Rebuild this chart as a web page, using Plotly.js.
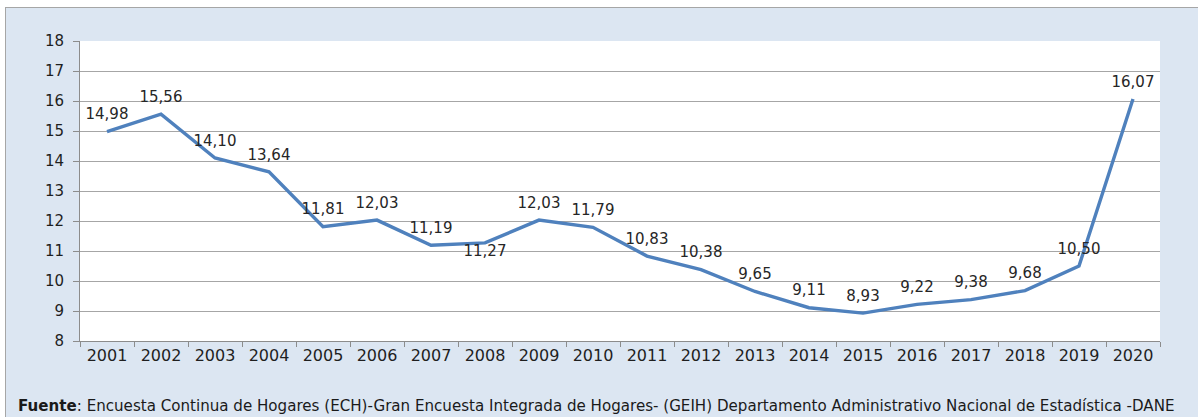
<!DOCTYPE html>
<html>
<head>
<meta charset="utf-8">
<script src="https://cdn.plot.ly/plotly-3.0.1.min.js"></script>
<style>
html,body{margin:0;padding:0;background:#ffffff;width:1198px;height:417px;overflow:hidden;}
#wrap{position:absolute;left:5px;top:7px;width:1193px;height:410px;border-left:1px solid #a6a6a6;border-top:1px solid #a6a6a6;background:#dce6f2;}
#chart{width:1192px;height:409px;}
</style>
</head>
<body>
<div id="wrap"><div id="chart"></div></div>
<script>
const years = ['2001','2002','2003','2004','2005','2006','2007','2008','2009','2010','2011','2012','2013','2014','2015','2016','2017','2018','2019','2020'];
const values = [14.98,15.56,14.10,13.64,11.81,12.03,11.19,11.27,12.03,11.79,10.83,10.38,9.65,9.11,8.93,9.22,9.38,9.68,10.50,16.07];
const belowYears = ['2008'];
const sourceBold = 'Fuente';
const sourceText = ': Encuesta Continua de Hogares (ECH)-Gran Encuesta Integrada de Hogares- (GEIH) Departamento Administrativo Nacional de Estadística -DANE';

const fmt = v => v.toFixed(2).replace('.', ',');
const FONT = "'DejaVu Sans', Arial, sans-serif";
const labelFont = {family: FONT, size: 15, color: '#262626'};

const aboveIdx = years.map((y, i) => i).filter(i => !belowYears.includes(years[i]));
const belowIdx = years.map((y, i) => i).filter(i => belowYears.includes(years[i]));

const lineTrace = {
  type: 'scatter', mode: 'lines',
  x: years, y: values,
  line: {color: '#4f81bd', width: 3.4},
  hoverinfo: 'skip'
};
const aboveTrace = {
  type: 'scatter', mode: 'markers+text',
  x: aboveIdx.map(i => years[i]), y: aboveIdx.map(i => values[i]),
  text: aboveIdx.map(i => fmt(values[i])),
  textposition: 'top center', textfont: labelFont,
  marker: {size: 12, color: 'rgba(0,0,0,0)', line: {width: 0}},
  cliponaxis: false, hoverinfo: 'skip'
};
const belowTrace = {
  type: 'scatter', mode: 'markers+text',
  x: belowIdx.map(i => years[i]), y: belowIdx.map(i => values[i]),
  text: belowIdx.map(i => fmt(values[i])),
  textposition: 'bottom center', textfont: labelFont,
  marker: {size: 1, color: 'rgba(0,0,0,0)', line: {width: 0}},
  cliponaxis: false, hoverinfo: 'skip'
};

const layout = {
  width: 1192,
  height: 409,
  margin: {l: 74, r: 38, t: 33, b: 76},
  paper_bgcolor: '#dce6f2',
  plot_bgcolor: '#ffffff',
  showlegend: false,
  font: {family: FONT, color: '#262626'},
  xaxis: {
    type: 'category',
    categoryorder: 'array', categoryarray: years,
    range: [-0.5, 19.5],
    showgrid: false,
    showline: true,
    linecolor: '#8c8c8c',
    linewidth: 1,
    ticks: 'outside',
    ticklen: 5,
    tickcolor: '#8c8c8c',
    tickson: 'boundaries',
    tickfont: {family: FONT, size: 16, color: '#1f1f1f'},
    zeroline: false,
    fixedrange: true
  },
  yaxis: {
    range: [8, 18],
    dtick: 1,
    showgrid: true,
    gridcolor: '#a6a6a6',
    gridwidth: 1,
    showline: true,
    linecolor: '#8c8c8c',
    linewidth: 1,
    ticks: 'outside',
    ticklen: 6,
    tickcolor: '#8c8c8c',
    ticklabelstandoff: 6,
    tickfont: {family: FONT, size: 15, color: '#1f1f1f'},
    zeroline: false,
    fixedrange: true
  },
  annotations: [{
    xref: 'paper', yref: 'paper',
    x: -0.059, y: -0.215,
    xanchor: 'left', yanchor: 'middle',
    showarrow: false,
    text: '<b>' + sourceBold + '</b>' + sourceText,
    font: {family: FONT, size: 15.1, color: '#1a1a1a'}
  }]
};

Plotly.newPlot('chart', [lineTrace, aboveTrace, belowTrace], layout, {displayModeBar: false, staticPlot: true});
</script>
</body>
</html>
